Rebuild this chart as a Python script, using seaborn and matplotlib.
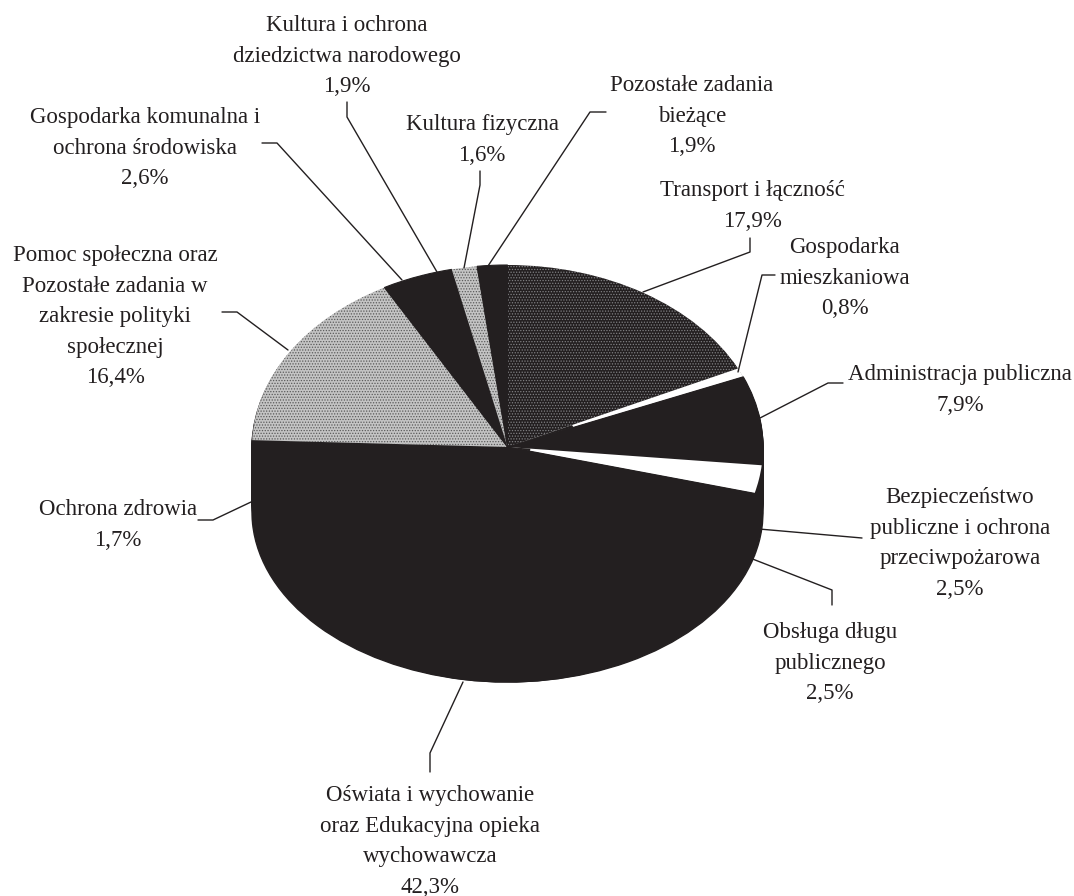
import matplotlib
matplotlib.use("Agg")
import matplotlib.pyplot as plt
import numpy as np
import seaborn as sns

labels = [
    "Transport i łączność",
    "Gospodarka\nmieszkaniowa",
    "Administracja publiczna",
    "Bezpieczeństwo\npubliczne i ochrona\nprzeciwpożarowa",
    "Obsługa długu\npublicznego",
    "Oświata i wychowanie\noraz Edukacyjna opieka\nwychowawcza",
    "Ochrona zdrowia",
    "Pomoc społeczna oraz\nPozostałe zadania w\nzakresie polityki\nspołecznej",
    "Gospodarka komunalna i\nochrona środowiska",
    "Kultura i ochrona\ndziedzictwa narodowego",
    "Kultura fizyczna",
    "Pozostałe zadania\nbieżące",
]
shares = [17.9, 0.8, 7.9, 2.5, 2.5, 42.3, 1.7, 16.4, 2.6, 1.9, 1.6, 1.9]

INK = "#231f20"
W, H = 1074, 896
# pie box in image pixels
LEFT, RIGHT, TOP, MID = 252, 763, 265, 447
DEPTH = 53
BASE_MID, BASE_RY = 512, 170

# label centre x, first line centre y
label_pos = [
    (752, 188), (845, 245), (960, 372), (960, 495), (830, 630), (430, 793),
    (118, 507), (115, 253), (145, 115), (347, 23), (482, 122), (692, 83),
]
leaders = [
    [(750, 238), (750, 252), (643, 292)],
    [(775, 275), (762, 275), (738, 372)],
    [(843, 383), (828, 383), (760, 418)],
    [(759, 529), (862, 538)],
    [(750, 558), (832, 590), (832, 605)],
    [(463, 682), (430, 753), (430, 772)],
    [(198, 520), (213, 520), (251, 502)],
    [(222, 312), (237, 312), (288, 350)],
    [(262, 143), (277, 143), (402, 280)],
    [(347, 102), (347, 117), (437, 272)],
    [(480, 171), (480, 185), (464, 268)],
    [(606, 112), (590, 112), (488, 266)],
]
# face and dots colour per slice
face = [INK, "white", INK, "white", INK, INK, INK, "#c4c4c4", INK, INK, "#c4c4c4", INK]
dots = ["#808083", None, None, None, None, None, None, "#5a5a5a", None, None, "#5a5a5a", None]


def black_pie(ax, center=(0, 0)):
    ax.pie(shares, startangle=90, counterclock=False, center=center, radius=1,
           colors=[INK] * len(shares), frame=True,
           wedgeprops={"edgecolor": INK, "linewidth": 1})


def finish_axes(ax, y0, y1):
    ax.set_aspect("auto")
    ax.set_xlim(-1, 1)
    ax.set_ylim(y0, y1)
    ax.axis("off")


sns.set_theme(style="white")
plt.rcParams["font.family"] = ["Liberation Serif", "DejaVu Serif"]
plt.rcParams["hatch.linewidth"] = 0.6

fig = plt.figure(figsize=(W / 100, H / 100), dpi=100, facecolor="white")

# lower rim is a bit flatter than the top face, so it gets its own axes
base_ax = fig.add_axes([LEFT / W, 1 - (BASE_MID + BASE_RY) / H, (RIGHT - LEFT) / W, 2 * BASE_RY / H])
black_pie(base_ax)
finish_axes(base_ax, -1, 1)

ry = MID - TOP
rel_depth = DEPTH / ry
pie_ax = fig.add_axes([LEFT / W, 1 - (MID + ry + DEPTH) / H, (RIGHT - LEFT) / W, (2 * ry + DEPTH) / H])

# side of the cake: the same pie repeated downwards
for off in np.linspace(rel_depth, 0.01, 40):
    black_pie(pie_ax, center=(0, -off))

wedges, _ = pie_ax.pie(shares, startangle=90, counterclock=False, radius=1, colors=face, frame=True)
for wedge, fc, col in zip(wedges, face, dots):
    wedge.set_linewidth(0)
    if col:
        wedge.set_edgecolor(col)
        wedge.set_hatch("......")
    elif fc == INK:
        wedge.set_edgecolor(INK)
        wedge.set_linewidth(0.8)

# the white slices fade out before they reach the centre
for radius, idx in [(0.28, 1), (0.09, 3)]:
    cover = ["none"] * len(shares)
    cover[idx] = INK
    pie_ax.pie(shares, startangle=90, counterclock=False, radius=radius, colors=cover,
               frame=True, wedgeprops={"linewidth": 0})

finish_axes(pie_ax, -1 - rel_depth, 1)

ax = fig.add_axes([0, 0, 1, 1], facecolor="none")
ax.set_xlim(0, W)
ax.set_ylim(H, 0)
ax.axis("off")

for label, share, (x, y), path in zip(labels, shares, label_pos, leaders):
    text = f"{label}\n{share:.1f}%".replace(".", ",")
    ax.text(x, y - 8, text, ha="center", va="top", fontsize=16.5, color=INK, linespacing=1.6)
    xs, ys = zip(*path)
    ax.plot(xs, ys, color=INK, lw=1.0)

fig.savefig("out.png", dpi=100)
plt.close(fig)
